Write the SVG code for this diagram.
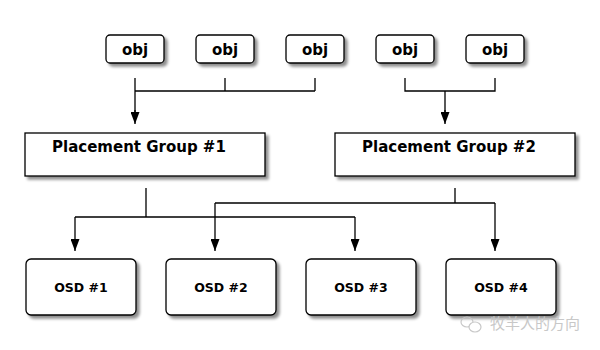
<svg xmlns="http://www.w3.org/2000/svg" width="600" height="350" viewBox="0 0 600 350">
<style>
.box{fill:#fff;stroke:#000;stroke-width:1.3;filter:url(#sh)}
.t{font-family:"DejaVu Sans",sans-serif;font-weight:bold;fill:#000}
.obj{font-size:15px;text-anchor:middle}
.pg{font-size:15px}
.osd{font-size:12.5px;text-anchor:middle}
.c{fill:none;stroke:#000;stroke-width:1.3}
.wm{font-family:"Noto Sans CJK SC",sans-serif;font-size:15px;fill:#c8c8c8}
</style>
<defs>
<filter id="sh" x="-10%" y="-10%" width="130%" height="140%">
<feGaussianBlur in="SourceAlpha" stdDeviation="1.5"/>
<feOffset dx="3" dy="3" result="b"/>
<feComponentTransfer><feFuncA type="linear" slope="0.45"/></feComponentTransfer>
<feMerge><feMergeNode/><feMergeNode in="SourceGraphic"/></feMerge>
</filter>
<marker id="ar" viewBox="0 0 12 9" refX="12" refY="4.5" markerWidth="12" markerHeight="9" markerUnits="userSpaceOnUse" orient="auto">
<path d="M0,0 L12,4.5 L0,9 Z" fill="#000"/>
</marker>
</defs>
<rect width="600" height="350" fill="#fff"/>
<g id="connectors">
<path class="c" d="M135,78 V112 M135,91 H315 M225,78 V91 M315,78 V91"/>
<path class="c" d="M405,78 V91 H495 V78 M445,91 V112"/>
<path class="c" d="M146,188 V217 M75,217 H355"/>
<path class="c" d="M455,188 V203 M215,203 H495"/>
<line class="c" x1="135" y1="110" x2="135" y2="124" marker-end="url(#ar)"/>
<line class="c" x1="445" y1="110" x2="445" y2="124" marker-end="url(#ar)"/>
<line class="c" x1="75" y1="217" x2="75" y2="251" marker-end="url(#ar)"/>
<line class="c" x1="355" y1="217" x2="355" y2="251" marker-end="url(#ar)"/>
<line class="c" x1="215" y1="203" x2="215" y2="251" marker-end="url(#ar)"/>
<line class="c" x1="495" y1="203" x2="495" y2="251" marker-end="url(#ar)"/>
</g>
<g id="obj1"><rect class="box" x="106" y="35" width="58" height="28" rx="4"/><text class="t obj" x="135" y="55">obj</text></g>
<g id="obj2"><rect class="box" x="196" y="35" width="58" height="28" rx="4"/><text class="t obj" x="225" y="55">obj</text></g>
<g id="obj3"><rect class="box" x="286" y="35" width="58" height="28" rx="4"/><text class="t obj" x="315" y="55">obj</text></g>
<g id="obj4"><rect class="box" x="376" y="35" width="58" height="28" rx="4"/><text class="t obj" x="405" y="55">obj</text></g>
<g id="obj5"><rect class="box" x="466" y="35" width="58" height="28" rx="4"/><text class="t obj" x="495" y="55">obj</text></g>
<g id="pg1"><rect class="box" x="25" y="133" width="240" height="43"/><text class="t pg" x="52" y="152">Placement Group #1</text></g>
<g id="pg2"><rect class="box" x="335" y="133" width="240" height="43"/><text class="t pg" x="362" y="152">Placement Group #2</text></g>
<g id="osd1"><rect class="box" x="26" y="259" width="110" height="56" rx="5"/><text class="t osd" x="81" y="292">OSD #1</text></g>
<g id="osd2"><rect class="box" x="166" y="259" width="110" height="56" rx="5"/><text class="t osd" x="221" y="292">OSD #2</text></g>
<g id="osd3"><rect class="box" x="306" y="259" width="110" height="56" rx="5"/><text class="t osd" x="361" y="292">OSD #3</text></g>
<g id="osd4"><rect class="box" x="446" y="259" width="110" height="56" rx="5"/><text class="t osd" x="501" y="292">OSD #4</text></g>
<g id="watermark">
<ellipse cx="467" cy="322" rx="6" ry="5" fill="none" stroke="#c8c8c8" stroke-width="1.2"/>
<ellipse cx="475" cy="327" rx="6" ry="5" fill="#fff" stroke="#c8c8c8" stroke-width="1.2"/>
<text class="wm" x="490" y="329">牧羊人的方向</text>
</g>
</svg>
